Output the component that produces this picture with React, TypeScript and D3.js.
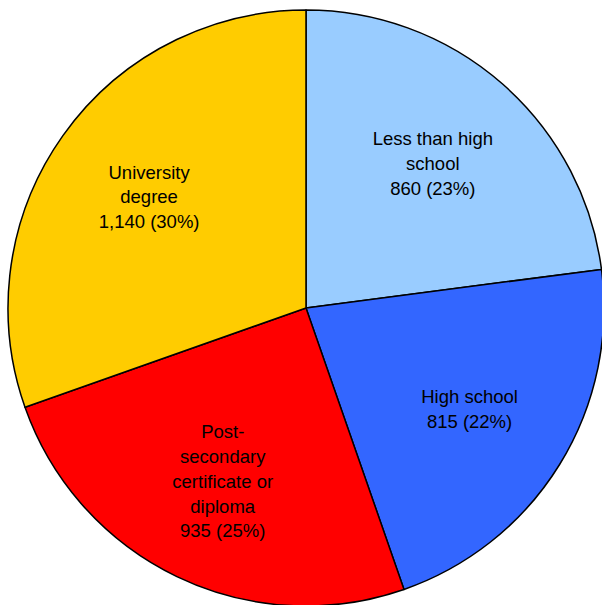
import { useRef, useEffect } from "react";
import * as d3 from "d3";

const categories = [
  ["Less than high", "school"],
  ["High school"],
  ["Post-", "secondary", "certificate or", "diploma"],
  ["University", "degree"],
];
const values = [860, 815, 935, 1140];
const colors = ["#99CCFF", "#3366FF", "#FF0000", "#FFCC00"];

const width = 602;
const height = 605;

export default function App() {
  const ref = useRef<SVGSVGElement | null>(null);

  useEffect(() => {
    const svg = d3.select(ref.current);
    svg.selectAll("*").remove();

    const cx = 306;
    const cy = 308;
    const r = 298;
    const total = d3.sum(values);

    const pie = d3
      .pie<number>()
      .sort(null)
      .value((d) => d);
    const arcs = pie(values);

    const arc = d3.arc<d3.PieArcDatum<number>>().innerRadius(0).outerRadius(r);
    const labelArc = d3
      .arc<d3.PieArcDatum<number>>()
      .innerRadius(r * 0.645)
      .outerRadius(r * 0.645);

    const g = svg.append("g").attr("transform", `translate(${cx},${cy})`);

    g.selectAll("path")
      .data(arcs)
      .join("path")
      .attr("d", arc)
      .attr("fill", (_, i) => colors[i])
      .attr("stroke", "#000")
      .attr("stroke-width", 1.5)
      .attr("stroke-linejoin", "round");

    const fmt = d3.format(",");
    const lineH = 24.8;

    arcs.forEach((a, i) => {
      const [x, y] = labelArc.centroid(a);
      const lines = [
        ...categories[i],
        `${fmt(values[i])} (${Math.round((values[i] / total) * 100)}%)`,
      ];
      const y0 = y - ((lines.length - 1) * lineH) / 2;
      const t = g
        .append("text")
        .attr("text-anchor", "middle")
        .attr("font-family", "Liberation Sans, Arial, sans-serif")
        .attr("font-size", 18.5)
        .attr("fill", "#000");
      lines.forEach((l, j) => {
        t.append("tspan")
          .attr("x", x)
          .attr("y", y0 + j * lineH)
          .attr("dy", "0.35em")
          .text(l);
      });
    });
  }, []);

  return (
    <svg
      ref={ref}
      width={width}
      height={height}
      style={{ position: "absolute", left: 0, top: 0, background: "#fff" }}
    />
  );
}
